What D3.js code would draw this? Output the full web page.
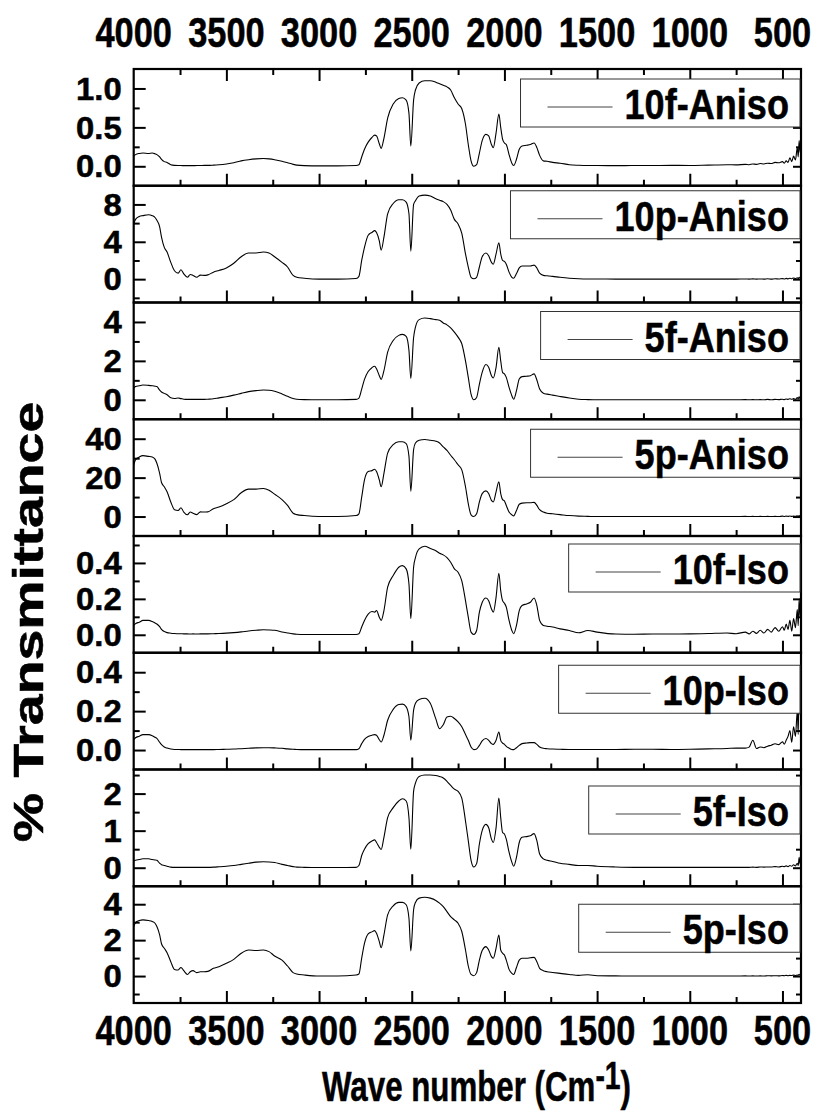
<!DOCTYPE html>
<html><head><meta charset="utf-8">
<script src="https://cdn.jsdelivr.net/npm/d3@7"></script>
<style>
body{margin:0;background:#fff;}
svg text{font-family:"Liberation Sans",Arial,sans-serif;font-weight:bold;fill:#000;stroke:#000;stroke-width:0.5px;}
.xtl{font-size:43px;}
.ytl{font-size:31px;}
.leg{font-size:43px;}
.ylab{font-size:42px;}
.xlab{font-size:42px;}
</style></head><body>
<svg id="chart" width="820" height="1112"></svg>
<script>
// ---------------- DATA ----------------
const wavenumbers = [4000,3990,3970,3950,3920,3900,3885,3875,3860,3850,
3835,3820,3800,3780,3760,3745,3730,3710,3695,3680,
3660,3640,3620,3600,3570,3540,3500,3460,3420,3380,
3340,3300,3270,3240,3200,3170,3140,3120,3080,3000,
2900,2800,2785,2770,2755,2735,2715,2700,2690,2675,
2665,2650,2630,2600,2570,2550,2530,2515,2505,2490,
2480,2460,2430,2400,2370,2350,2330,2310,2290,2270,
2250,2230,2210,2195,2180,2165,2150,2135,2120,2100,
2085,2070,2060,2045,2030,2020,2010,2000,1990,1975,
1960,1950,1935,1920,1905,1880,1860,1840,1825,1810,
1790,1770,1740,1700,1650,1600,1550,1500,1400,1300,
1200,1100,1000,900,800,750,700,680,660,640,
620,600,580,560,540,520,500,490,480,470,
460,450,440,430,420,415,410,405,400];

const seriesNames = ["10f-Aniso","10p-Aniso","5f-Aniso","5p-Aniso","10f-Iso","10p-Iso","5f-Iso","5p-Iso"];

const t10fAniso = [0.13,0.15,0.165,0.17,0.165,0.17,0.16,0.15,0.12,0.09,
0.06,0.05,0.02,0.012,0.01,0.01,0.008,0.008,0.008,0.008,
0.01,0.01,0.012,0.012,0.015,0.02,0.03,0.045,0.07,0.085,
0.095,0.10,0.095,0.085,0.065,0.045,0.025,0.015,0.008,0.005,
0.005,0.01,0.02,0.12,0.22,0.31,0.37,0.40,0.39,0.29,
0.23,0.36,0.62,0.80,0.87,0.88,0.85,0.68,0.26,0.85,
0.98,1.07,1.10,1.10,1.08,1.06,1.04,1.02,0.98,0.88,
0.80,0.74,0.54,0.28,0.07,0.0,0.02,0.17,0.33,0.41,
0.39,0.28,0.24,0.43,0.67,0.50,0.35,0.30,0.28,0.15,
0.04,0.01,0.09,0.22,0.26,0.27,0.28,0.30,0.24,0.14,
0.07,0.065,0.05,0.04,0.02,0.013,0.01,0.01,0.008,0.01,
0.01,0.012,0.01,0.015,0.02,0.018,0.025,0.02,0.03,0.025,
0.035,0.03,0.04,0.035,0.05,0.045,0.06,0.04,0.07,0.05,
0.11,0.06,0.13,0.08,0.24,0.12,0.33,0.18,0.28];

const t10pAniso = [5.9,6.4,6.7,6.8,6.9,6.8,6.6,6.3,5.6,4.5,
3.4,2.9,1.8,0.9,0.64,1.0,0.57,0.2,0.5,0.4,
0.2,0.43,0.4,0.46,0.75,0.93,1.2,1.7,2.4,2.8,
2.8,2.9,2.8,2.4,1.8,1.3,0.4,0.2,0.1,0.0,
0.0,0.07,0.3,2.0,3.4,4.7,5.0,5.2,5.0,4.1,
3.1,4.5,7.0,8.1,8.5,8.5,8.25,7.0,3.0,8.0,
8.4,8.9,9.0,8.9,8.6,8.45,8.3,8.0,7.4,6.4,
5.9,4.9,2.7,1.3,0.2,0.04,0.2,1.3,2.4,2.8,
2.5,1.8,1.6,2.7,3.9,2.7,2.0,1.9,1.6,0.75,
0.2,0.1,0.6,1.2,1.4,1.4,1.4,1.5,1.2,0.64,
0.4,0.36,0.3,0.2,0.1,0.04,0.02,0.02,0.0,0.0,
0.0,0.0,0.0,0.0,0.0,0.0,0.02,0.0,0.03,0.0,
0.02,0.0,0.05,0.0,0.04,0.02,0.06,0.02,0.08,0.03,
0.1,0.05,0.12,0.06,0.15,0.05,0.2,0.1,0.18];

const t5fAniso = [0.6,0.68,0.72,0.76,0.74,0.72,0.70,0.68,0.50,0.40,
0.33,0.26,0.10,0.07,0.09,0.06,0.03,0.02,0.02,0.02,
0.02,0.02,0.02,0.03,0.05,0.1,0.16,0.24,0.33,0.42,
0.47,0.5,0.49,0.44,0.3,0.18,0.07,0.03,0.01,0.0,
0.0,0.02,0.09,0.55,1.05,1.45,1.65,1.72,1.59,1.24,
1.05,1.5,2.45,3.05,3.31,3.36,3.26,2.53,1.1,3.2,
3.74,4.12,4.2,4.17,4.12,4.09,3.95,3.85,3.70,3.48,
3.22,2.88,2.0,1.15,0.29,0.0,0.12,0.81,1.41,1.81,
1.67,1.24,1.12,1.67,2.7,2.0,1.41,1.33,1.15,0.64,
0.21,0.03,0.47,1.07,1.19,1.21,1.24,1.33,1.02,0.55,
0.34,0.29,0.24,0.17,0.09,0.03,0.01,0.0,0.0,0.0,
0.0,0.0,0.0,0.0,0.0,0.0,0.01,0.0,0.01,0.0,
0.01,0.0,0.02,0.0,0.02,0.01,0.03,0.01,0.04,0.02,
0.05,0.03,0.06,0.02,0.12,0.04,0.15,0.06,0.1];

const t5pAniso = [26.6,29.2,30.6,31.3,30.9,30.6,29.5,27.4,22.2,17.5,
15.3,12.7,7.5,3.5,3.1,4.5,2.3,0.9,2.3,1.7,
1.0,2.4,2.3,2.4,4.0,4.9,6.6,8.7,12.2,14.1,
14.1,14.4,13.5,11.5,8.7,5.7,1.7,1.0,0.5,0.0,
0.0,0.5,1.4,10.0,18.8,23.1,23.6,24.3,23.1,18.8,
15.3,22.2,32.6,37.0,38.4,38.4,37.5,30.9,13.0,34.4,
37.8,39.2,39.6,39.2,38.7,37.8,35.8,34.0,31.5,29.2,
26.6,24.0,15.3,6.6,0.9,0.0,1.4,7.5,11.8,13.2,
11.8,8.3,7.5,12.7,17.9,11.8,8.7,8.0,5.7,2.3,
0.9,0.35,3.1,6.3,6.9,7.1,7.1,7.3,5.7,3.5,
2.3,1.7,1.4,1.0,0.5,0.2,0.1,0.0,0.0,0.0,
0.0,0.0,0.0,0.0,0.0,0.0,0.1,0.0,0.1,0.0,
0.1,0.0,0.1,0.0,0.1,0.0,0.2,0.0,0.2,0.1,
0.3,0.1,0.3,0.1,0.4,0.1,0.5,0.2,0.4];

const t10fIso = [0.052,0.062,0.07,0.08,0.08,0.074,0.066,0.06,0.045,0.03,
0.018,0.012,0.009,0.007,0.006,0.006,0.005,0.005,0.004,0.005,
0.004,0.005,0.005,0.005,0.006,0.007,0.009,0.012,0.016,0.021,
0.025,0.028,0.027,0.025,0.016,0.01,0.005,0.003,0.002,0.002,
0.002,0.002,0.006,0.043,0.08,0.115,0.13,0.126,0.135,0.098,
0.08,0.135,0.265,0.33,0.376,0.385,0.367,0.283,0.09,0.376,
0.43,0.478,0.493,0.48,0.468,0.454,0.445,0.43,0.404,0.367,
0.348,0.30,0.19,0.098,0.015,0.002,0.024,0.126,0.18,0.205,
0.19,0.144,0.126,0.21,0.343,0.246,0.19,0.176,0.154,0.08,
0.024,0.006,0.052,0.135,0.163,0.172,0.181,0.205,0.163,0.08,
0.052,0.048,0.043,0.033,0.024,0.011,0.024,0.015,0.004,0.003,
0.004,0.004,0.005,0.007,0.01,0.006,0.015,0.005,0.02,0.008,
0.025,0.01,0.03,0.015,0.04,0.02,0.045,0.025,0.06,0.03,
0.08,0.02,0.09,0.04,0.14,0.05,0.2,0.1,0.25];

const t10pIso = [0.053,0.063,0.071,0.079,0.079,0.074,0.066,0.06,0.04,0.028,
0.016,0.01,0.005,0.003,0.003,0.002,0.002,0.002,0.002,0.002,
0.002,0.002,0.002,0.002,0.002,0.003,0.004,0.005,0.007,0.009,
0.011,0.012,0.012,0.011,0.009,0.006,0.004,0.003,0.002,0.002,
0.002,0.002,0.007,0.033,0.055,0.07,0.076,0.079,0.076,0.053,
0.041,0.076,0.153,0.209,0.234,0.236,0.222,0.171,0.05,0.205,
0.24,0.26,0.266,0.24,0.16,0.11,0.13,0.17,0.174,0.162,
0.145,0.12,0.08,0.05,0.016,0.002,0.005,0.024,0.047,0.059,
0.05,0.033,0.029,0.05,0.093,0.05,0.036,0.029,0.019,0.01,
0.003,0.002,0.012,0.024,0.033,0.036,0.038,0.038,0.029,0.016,
0.009,0.007,0.005,0.004,0.003,0.003,0.003,0.003,0.003,0.004,
0.004,0.003,0.004,0.006,0.008,0.01,0.01,0.015,0.05,0.008,
0.016,0.012,0.02,0.025,0.032,0.028,0.042,0.03,0.05,0.07,
0.1,0.04,0.12,0.07,0.2,0.08,0.36,0.18,0.3];

const t5fIso = [0.18,0.2,0.22,0.24,0.24,0.22,0.21,0.2,0.12,0.08,
0.06,0.04,0.015,0.01,0.01,0.01,0.01,0.01,0.01,0.01,
0.01,0.01,0.01,0.01,0.015,0.025,0.04,0.06,0.09,0.12,
0.15,0.16,0.155,0.14,0.09,0.06,0.03,0.015,0.01,0.005,
0.005,0.01,0.06,0.33,0.5,0.65,0.72,0.75,0.68,0.55,
0.49,0.82,1.35,1.62,1.8,1.86,1.8,1.35,0.5,2.06,
2.28,2.46,2.5,2.5,2.49,2.46,2.42,2.33,2.22,2.12,
2.06,1.88,1.26,0.73,0.2,0.02,0.11,0.64,1.0,1.17,
1.08,0.77,0.68,1.08,1.88,1.35,0.95,0.91,0.77,0.42,
0.15,0.04,0.28,0.68,0.82,0.84,0.86,0.92,0.73,0.37,
0.24,0.2,0.17,0.12,0.09,0.06,0.06,0.04,0.02,0.01,
0.01,0.01,0.01,0.01,0.01,0.01,0.01,0.01,0.015,0.01,
0.02,0.015,0.02,0.02,0.03,0.02,0.04,0.03,0.05,0.03,
0.06,0.04,0.08,0.05,0.12,0.06,0.28,0.1,0.12];

const t5pIso = [2.76,2.98,3.09,3.13,3.09,3.04,2.94,2.76,2.29,1.8,
1.55,1.3,0.8,0.37,0.34,0.48,0.3,0.09,0.24,0.3,
0.19,0.24,0.24,0.26,0.43,0.52,0.71,0.93,1.27,1.45,
1.42,1.45,1.36,1.12,0.89,0.56,0.19,0.11,0.06,0.0,
0.0,0.06,0.11,1.0,1.82,2.35,2.46,2.53,2.38,1.92,
1.58,2.29,3.41,3.91,4.1,4.1,3.97,3.22,1.4,3.69,
4.1,4.34,4.39,4.34,4.21,4.06,3.87,3.59,3.31,3.13,
2.94,2.48,1.45,0.56,0.09,0.02,0.19,0.89,1.42,1.64,
1.45,1.08,0.99,1.55,2.29,1.45,1.27,1.17,0.89,0.37,
0.15,0.09,0.48,0.89,0.99,0.99,1.02,1.04,0.8,0.43,
0.3,0.24,0.2,0.15,0.09,0.04,0.07,0.02,0.01,0.0,
0.0,0.0,0.0,0.0,0.0,0.0,0.01,0.0,0.01,0.0,
0.01,0.0,0.02,0.01,0.02,0.01,0.03,0.02,0.04,0.02,
0.04,0.03,0.05,0.03,0.06,0.04,0.1,0.05,0.19];

const seriesValues = [t10fAniso,t10pAniso,t5fAniso,t5pAniso,t10fIso,t10pIso,t5fIso,t5pIso];

// axis ranges and ticks per panel
const yDomains = [[-0.25,1.25],[-2.5,10],[-1,5],[-10,50],[-0.1,0.55],[-0.1,0.5],[-0.5,2.65],[-1.5,5]];
const yMajorTicks = [[0,0.5,1.0],[0,4,8],[0,2,4],[0,20,40],[0,0.2,0.4],[0,0.2,0.4],[0,1,2],[0,2,4]];
const yMinorTicks = [[0.25,0.75],[-2,2,6],[1,3],[10,30],[0.1,0.3,0.5],[0.1,0.3],[0.5,1.5,2.5],[-1,1,3]];
const yTickFormats = [".1f","d","d","d",".1f",".1f","d","d"];
const xDomain = [4000,400];
const xMajorTicks = [4000,3500,3000,2500,2000,1500,1000,500];
const xMinorTicks = [3750,3250,2750,2250,1750,1250,750];

// ---------------- LAYOUT ----------------
const L = 133.7, R = 801, T = 69, B = 1003;
const nP = seriesNames.length;
const pH = (B - T) / nP;
const legendTopOffsets = [10,5,9,10,8,12.5,16.5,18];
const sxTick = 0.8, sxY = 1.06, sxLeg = 0.84, sxXlab = 0.745;

const svg = d3.select("#chart");
const x = d3.scaleLinear().domain(xDomain).range([L, R]);

seriesNames.forEach((name, i) => {
  const top = T + i * pH, bot = top + pH;
  const y = d3.scaleLinear().domain(yDomains[i]).range([bot, top]);
  const g = svg.append("g");

  g.append("clipPath").attr("id", "clip" + i)
    .append("rect").attr("x", L).attr("y", top).attr("width", R - L).attr("height", pH);

  const pts = wavenumbers.map((w, k) => [w, seriesValues[i][k]]).filter(d => d[1] != null);
  const line = d3.line().x(d => x(d[0])).y(d => y(d[1])).curve(d3.curveMonotoneX);
  g.append("path").attr("d", line(pts)).attr("fill", "none").attr("stroke", "#000")
    .attr("stroke-width", 1.1).attr("clip-path", `url(#clip${i})`);

  const style = sel => { sel.select(".domain").remove();
    sel.selectAll("line").attr("stroke", "#000").attr("stroke-width", 2);
    sel.selectAll("text").remove(); };

  g.append("g").attr("transform", `translate(${L},0)`)
    .call(d3.axisLeft(y).tickValues(yMajorTicks[i]).tickSize(-12)).call(style);
  g.append("g").attr("transform", `translate(${L},0)`)
    .call(d3.axisLeft(y).tickValues(yMinorTicks[i]).tickSize(-6)).call(style);
  g.append("g").attr("transform", `translate(${R},0)`)
    .call(d3.axisRight(y).tickValues(yMajorTicks[i]).tickSize(-8)).call(style);
  g.append("g").attr("transform", `translate(${R},0)`)
    .call(d3.axisRight(y).tickValues(yMinorTicks[i]).tickSize(-5)).call(style);
  g.append("g").attr("transform", `translate(0,${bot})`)
    .call(d3.axisBottom(x).tickValues(xMajorTicks.slice(1)).tickSize(-12)).call(style);
  g.append("g").attr("transform", `translate(0,${bot})`)
    .call(d3.axisBottom(x).tickValues(xMinorTicks).tickSize(-6)).call(style);
  if (i === 0) {
    g.append("g").attr("transform", `translate(0,${top})`)
      .call(d3.axisTop(x).tickValues(xMajorTicks.slice(1)).tickSize(-12)).call(style);
    g.append("g").attr("transform", `translate(0,${top})`)
      .call(d3.axisTop(x).tickValues(xMinorTicks).tickSize(-6)).call(style);
  }

  const fmt = d3.format(yTickFormats[i]);
  g.selectAll(".ytl").data(yMajorTicks[i]).join("text").attr("class", "ytl")
    .attr("text-anchor", "end").attr("dy", "0.36em")
    .attr("transform", d => `translate(${L - 12},${y(d)}) scale(${sxY},1)`)
    .text(d => fmt(d));

  g.append("rect").attr("x", L).attr("y", top).attr("width", R - L).attr("height", pH)
    .attr("fill", "none").attr("stroke", "#000").attr("stroke-width", 2.2);

  const lt = top + legendTopOffsets[i];
  const lg = g.append("g");
  const txt = lg.append("text").attr("class", "leg").attr("text-anchor", "end")
    .attr("transform", `translate(789,${lt + 40}) scale(${sxLeg},1)`).text(name);
  const tw = txt.node().getComputedTextLength() * sxLeg;
  const x0 = 789 - tw - 104;
  lg.insert("rect", "text").attr("x", x0).attr("y", lt).attr("width", 800 - x0).attr("height", 48)
    .attr("fill", "#fff").attr("stroke", "#333").attr("stroke-width", 1);
  lg.append("line").attr("x1", x0 + 27).attr("x2", x0 + 92).attr("y1", lt + 28).attr("y2", lt + 28)
    .attr("stroke", "#444").attr("stroke-width", 1.2);
});

svg.selectAll(".xtt").data(xMajorTicks).join("text").attr("class", "xtl")
  .attr("text-anchor", "middle")
  .attr("transform", d => `translate(${x(d)},47) scale(${sxTick},1)`).text(d => d);
svg.selectAll(".xtb").data(xMajorTicks).join("text").attr("class", "xtl")
  .attr("text-anchor", "middle")
  .attr("transform", d => `translate(${x(d)},1045) scale(${sxTick},1)`).text(d => d);

svg.append("text").attr("class", "ylab").attr("text-anchor", "middle")
  .attr("transform", "translate(43,622) rotate(-90) scale(1.32,1)").text("% Transmittance");
const xl = svg.append("text").attr("class", "xlab")
  .attr("transform", `translate(322,1101) scale(${sxXlab},1)`);
xl.append("tspan").text("Wave number (Cm");
xl.append("tspan").attr("dy", -12).attr("font-size", 38).text("-1");
xl.append("tspan").attr("dy", 12).text(")");
</script>
</body></html>
